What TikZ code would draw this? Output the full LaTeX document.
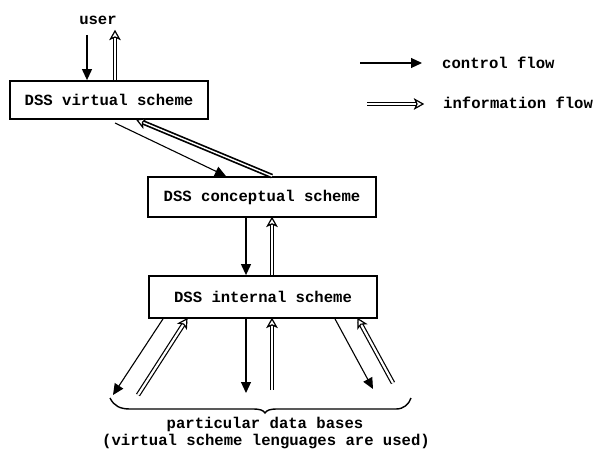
\documentclass[tikz,border=0pt]{standalone}
\usepackage{fontspec}
\setmonofont{Liberation Mono}
\usetikzlibrary{arrows.meta,decorations.markings}
\begin{document}
\begin{tikzpicture}[x=1pt,y=-1pt,
  every node/.style={font=\fontsize{15.6}{19}\selectfont\ttfamily\bfseries, inner sep=0pt},
  box/.style={draw, line width=1.8pt, anchor=center},
  ctrl/.style={line width=1.1pt, -{Triangle[length=11pt,width=10pt]}},
  info/.style={double=white, double distance=2.2pt, line width=1.2pt, shorten >=3pt,
    decoration={markings, mark=at position 1 with {
      \draw[line width=1.2pt, fill=white, line join=miter] (0pt,0pt) -- (-8pt,4.5pt) -- (-6pt,0pt) -- (-8pt,-4.5pt) -- cycle;}},
    postaction=decorate},
  infobold/.style={info, line width=1.7pt, double distance=1.4pt}]
\useasboundingbox (0,0) rectangle (600,452);
\node[box, minimum width=198pt, minimum height=38pt] (virt) at (109,100) {DSS virtual scheme};
\node[box, minimum width=228pt, minimum height=40pt] (conc) at (262,197) {DSS conceptual scheme};
\node[box, minimum width=228pt, minimum height=42pt] (intl) at (263,297) {DSS internal scheme};
\node (user) at (98,20) {user};
% user arrows
\coordinate (uc) at (87,35);
\coordinate (ui) at (115,31);
\draw[ctrl] (uc) -- (uc |- virt.north);
\draw[info] (ui |- virt.north) -- (ui);
% virtual <-> conceptual
\draw[ctrl] (115,123) -- (226,0 |- conc.north);
\draw[infobold] (272,0 |- conc.north) -- (137,0 |- virt.south);
% conceptual <-> internal
\draw[ctrl] (246,0 |- conc.south) -- (246,0 |- intl.north);
\draw[info] (272,0 |- intl.north) -- (272,0 |- conc.south);
% internal -> data bases
\coordinate (lc) at (113,395);
\coordinate (li) at (138,395);
\coordinate (mc) at (246,393);
\coordinate (mi) at (272,390);
\coordinate (rc) at (373,389);
\coordinate (ri) at (393,383);
\draw[ctrl] (163,0 |- intl.south) -- (lc);
\draw[info] (li) -- (187,0 |- intl.south);
\draw[ctrl] (246,0 |- intl.south) -- (mc);
\draw[info] (mi) -- (272,0 |- intl.south);
\draw[ctrl] (335,0 |- intl.south) -- (rc);
\draw[info] (ri) -- (358,0 |- intl.south);
% brace
\draw[line width=1.4pt] (110,398) .. controls (114,406) and (120,409) .. (130,409)
  -- (252,409) .. controls (260,409) and (263,410) .. (265,413)
  .. controls (267,410) and (270,409) .. (278,409)
  -- (396,409) .. controls (404,409) and (409,404) .. (411,398);
\node (db1) at (265,424) {particular data bases};
\node (db2) at (266,441) {(virtual scheme lenguages are used)};
% legend
\coordinate (l1a) at (360,63);
\coordinate (l1b) at (422,63);
\coordinate (l2a) at (367,104);
\coordinate (l2b) at (423,104);
\draw[ctrl] (l1a) -- (l1b);
\draw[infobold] (l2a) -- (l2b);
\node[anchor=west] (lt1) at (442,63) {control flow};
\node[anchor=west] (lt2) at (443,103) {information flow};
\end{tikzpicture}
\end{document}
